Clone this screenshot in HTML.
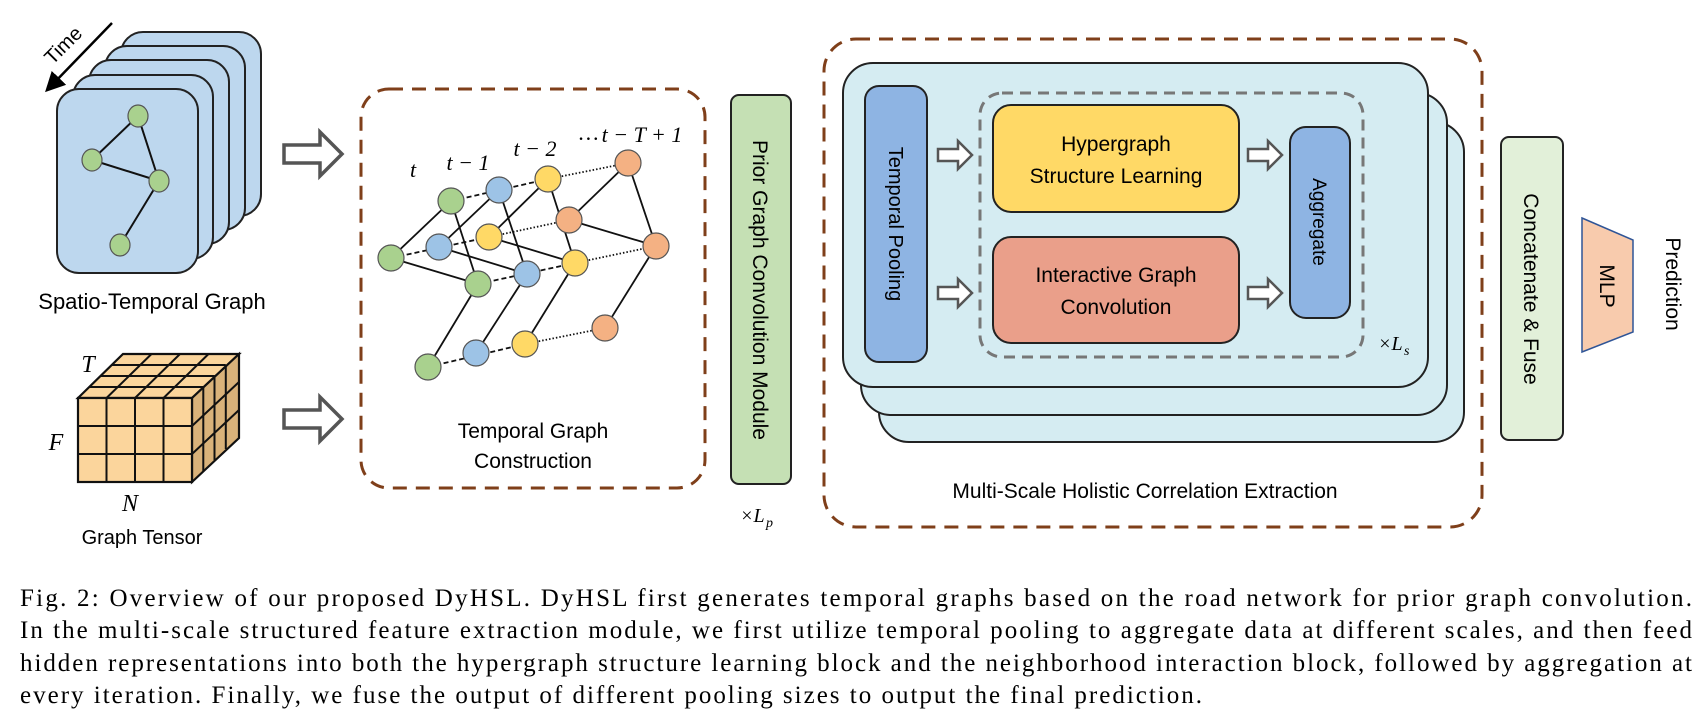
<!DOCTYPE html>
<html><head><meta charset="utf-8"><style>
html,body{margin:0;padding:0;background:#fff}
svg{display:block}
.s{font-family:"Liberation Sans Narrow","Liberation Sans",sans-serif}
.w{font-family:"Liberation Sans",sans-serif}
.m{font-family:"Liberation Serif",serif;font-style:italic}
.c{font-family:"Liberation Serif",serif;font-size:25px;fill:#000}
</style></head><body>
<svg width="1706" height="719" viewBox="0 0 1706 719" xmlns="http://www.w3.org/2000/svg">
<defs>
<marker id="ah" markerWidth="8" markerHeight="8" refX="4" refY="4" orient="auto"><path d="M0,0 L8,4 L0,8 z" fill="#000"/></marker>
<g id="oarrow"><path d="M0,-9 L36,-9 L36,-22 L58,0 L36,22 L36,9 L0,9 z" fill="#fff" stroke="#555" stroke-width="3.5"/></g>
<g id="sarrow"><path d="M0,-6 L20,-6 L20,-14 L34,0 L20,14 L20,6 L0,6 z" fill="#fff" stroke="#555" stroke-width="2.5"/></g>
</defs>

<!-- Time arrow -->
<line x1="112" y1="23" x2="52" y2="85" stroke="#000" stroke-width="2.5" marker-end="url(#ah)"/>
<text x="68" y="50" class="s" font-size="20" transform="rotate(-45 68 50)" text-anchor="middle">Time</text>

<!-- card stack -->
<g stroke="#222" stroke-width="2" fill="#bdd7ee">
<rect x="121" y="32" width="140" height="184" rx="22"/>
<rect x="105" y="46" width="140" height="184" rx="22"/>
<rect x="89" y="60" width="140" height="184" rx="22"/>
<rect x="73" y="75" width="140" height="184" rx="22"/>
<rect x="57" y="89" width="141" height="184" rx="22"/>
</g>
<g stroke="#111" stroke-width="2">
<line x1="138" y1="116" x2="92" y2="160"/><line x1="138" y1="116" x2="159" y2="181"/>
<line x1="92" y1="160" x2="159" y2="181"/><line x1="159" y1="181" x2="120" y2="245"/>
</g>
<g fill="#a9d18e" stroke="#555" stroke-width="1.2">
<ellipse cx="138" cy="116" rx="10" ry="11"/><ellipse cx="92" cy="160" rx="10" ry="11"/>
<ellipse cx="159" cy="181" rx="10" ry="11"/><ellipse cx="120" cy="245" rx="10" ry="11"/>
</g>
<text x="152" y="309" class="s" font-size="22" text-anchor="middle">Spatio-Temporal Graph</text>

<!-- cube -->
<g stroke="#111" stroke-width="2.2" fill="#fbd59c">
<path d="M78,398 L123,354 L239,354 L192,398 z"/>
<path d="M192,398 L239,354 L239,438 L192,482 z" fill="#d9b27a"/>
<rect x="78" y="398" width="114" height="84"/>
</g>
<g stroke="#111" stroke-width="2" fill="none">
<line x1="106.5" y1="398" x2="106.5" y2="482"/><line x1="135" y1="398" x2="135" y2="482"/><line x1="163.5" y1="398" x2="163.5" y2="482"/>
<line x1="78" y1="426" x2="192" y2="426"/><line x1="78" y1="454" x2="192" y2="454"/>
<line x1="89.3" y1="387" x2="203.3" y2="387"/><line x1="100.5" y1="376" x2="214.5" y2="376"/><line x1="111.8" y1="365" x2="225.8" y2="365"/>
<line x1="106.5" y1="398" x2="151.5" y2="354"/><line x1="135" y1="398" x2="180" y2="354"/><line x1="163.5" y1="398" x2="208.5" y2="354"/>
<line x1="203.3" y1="387" x2="203.3" y2="471"/><line x1="214.5" y1="376" x2="214.5" y2="460"/><line x1="225.8" y1="365" x2="225.8" y2="449"/>
<line x1="192" y1="426" x2="239" y2="382"/><line x1="192" y1="454" x2="239" y2="410"/>
</g>
<text x="88" y="372" class="m" font-size="24" text-anchor="middle">T</text>
<text x="56" y="450" class="m" font-size="24" text-anchor="middle">F</text>
<text x="130" y="511" class="m" font-size="24" text-anchor="middle">N</text>
<text x="142" y="544" class="s" font-size="20" text-anchor="middle">Graph Tensor</text>

<!-- arrows -->
<use href="#oarrow" x="284" y="154"/>
<use href="#oarrow" x="284" y="419"/>

<!-- box 1 -->
<rect x="361" y="89" width="344" height="399" rx="28" fill="none" stroke="#7f3f1a" stroke-width="3" stroke-dasharray="14 9"/>
<g class="m" font-size="22">
<text x="413" y="177" text-anchor="middle">t</text>
<text x="468" y="170" text-anchor="middle">t − 1</text>
<text x="535" y="156" text-anchor="middle">t − 2</text>
<text x="579" y="140">…</text>
<text x="642" y="142" text-anchor="middle">t − T + 1</text>
</g>
<g stroke="#111" stroke-width="1.8">
<line x1="451" y1="201" x2="391" y2="258"/><line x1="451" y1="201" x2="478" y2="284"/><line x1="391" y1="258" x2="478" y2="284"/><line x1="478" y1="284" x2="428" y2="367"/>
<line x1="499" y1="190" x2="439" y2="247"/><line x1="499" y1="190" x2="527" y2="274"/><line x1="439" y1="247" x2="527" y2="274"/><line x1="527" y1="274" x2="476" y2="353"/>
<line x1="548" y1="179" x2="489" y2="237"/><line x1="548" y1="179" x2="575" y2="263"/><line x1="489" y1="237" x2="575" y2="263"/><line x1="575" y1="263" x2="525" y2="344"/>
<line x1="628" y1="163" x2="569" y2="220"/><line x1="628" y1="163" x2="656" y2="246"/><line x1="569" y1="220" x2="656" y2="246"/><line x1="656" y1="246" x2="605" y2="328"/>
</g>
<g stroke="#111" stroke-width="1.8" stroke-dasharray="5 3">
<line x1="451" y1="201" x2="548" y2="179"/><line x1="391" y1="258" x2="489" y2="237"/><line x1="478" y1="284" x2="575" y2="263"/><line x1="428" y1="367" x2="525" y2="344"/>
</g>
<g stroke="#111" stroke-width="1.8" stroke-dasharray="1.5 2">
<line x1="548" y1="179" x2="628" y2="163"/><line x1="489" y1="237" x2="569" y2="220"/><line x1="575" y1="263" x2="656" y2="246"/><line x1="525" y1="344" x2="605" y2="328"/>
</g>
<g stroke="#555" stroke-width="1.2">
<g fill="#a9d18e"><circle cx="451" cy="201" r="13"/><circle cx="391" cy="258" r="13"/><circle cx="478" cy="284" r="13"/><circle cx="428" cy="367" r="13"/></g>
<g fill="#9dc3e6"><circle cx="499" cy="190" r="13"/><circle cx="439" cy="247" r="13"/><circle cx="527" cy="274" r="13"/><circle cx="476" cy="353" r="13"/></g>
<g fill="#ffd966"><circle cx="548" cy="179" r="13"/><circle cx="489" cy="237" r="13"/><circle cx="575" cy="263" r="13"/><circle cx="525" cy="344" r="13"/></g>
<g fill="#f4b183"><circle cx="628" cy="163" r="13"/><circle cx="569" cy="220" r="13"/><circle cx="656" cy="246" r="13"/><circle cx="605" cy="328" r="13"/></g>
</g>
<text x="533" y="438" class="s" font-size="21" text-anchor="middle">Temporal Graph</text>
<text x="533" y="468" class="s" font-size="21" text-anchor="middle">Construction</text>

<!-- prior -->
<rect x="731" y="95" width="60" height="389" rx="8" fill="#c5e0b4" stroke="#222" stroke-width="2"/>
<text class="w" font-size="21" text-anchor="middle" transform="translate(753 290) rotate(90)">Prior Graph Convolution Module</text>
<text x="740" y="522" class="m" font-size="20">×L</text><text x="766" y="527" class="m" font-size="14">p</text>

<!-- box2 -->
<rect x="824" y="39" width="658" height="488" rx="32" fill="none" stroke="#7f3f1a" stroke-width="3" stroke-dasharray="14 9"/>
<g stroke="#222" stroke-width="2" fill="#d5ecf2">
<rect x="879" y="122" width="585" height="320" rx="30"/>
<rect x="861" y="93" width="586" height="322" rx="30"/>
<rect x="843" y="63" width="585" height="324" rx="30"/>
</g>
<rect x="865" y="86" width="62" height="276" rx="14" fill="#8eb4e3" stroke="#222" stroke-width="2"/>
<text class="w" font-size="20" text-anchor="middle" transform="translate(889 224) rotate(90)">Temporal Pooling</text>
<rect x="980" y="93" width="383" height="264" rx="22" fill="none" stroke="#777" stroke-width="3" stroke-dasharray="11 7"/>
<rect x="993" y="105" width="246" height="107" rx="18" fill="#ffd966" stroke="#222" stroke-width="2"/>
<text x="1116" y="151" class="s" font-size="21" text-anchor="middle">Hypergraph</text>
<text x="1116" y="183" class="s" font-size="21" text-anchor="middle">Structure Learning</text>
<rect x="993" y="237" width="246" height="106" rx="18" fill="#ea9f8a" stroke="#222" stroke-width="2"/>
<text x="1116" y="282" class="s" font-size="21" text-anchor="middle">Interactive Graph</text>
<text x="1116" y="314" class="s" font-size="21" text-anchor="middle">Convolution</text>
<rect x="1290" y="127" width="60" height="191" rx="16" fill="#8eb4e3" stroke="#222" stroke-width="2"/>
<text class="w" font-size="19" text-anchor="middle" transform="translate(1313 222) rotate(90)">Aggregate</text>
<use href="#sarrow" x="938" y="155"/><use href="#sarrow" x="938" y="293"/>
<use href="#sarrow" x="1248" y="155"/><use href="#sarrow" x="1248" y="293"/>
<text x="1378" y="350" class="m" font-size="20">×L</text><text x="1404" y="355" class="m" font-size="14">s</text>
<text x="1145" y="498" class="s" font-size="21" text-anchor="middle">Multi-Scale Holistic Correlation Extraction</text>

<!-- concat -->
<rect x="1501" y="137" width="62" height="303" rx="8" fill="#e2f0d9" stroke="#222" stroke-width="2"/>
<text class="w" font-size="21" text-anchor="middle" transform="translate(1524 289) rotate(90)">Concatenate &amp; Fuse</text>
<path d="M1582,218 L1633,240 L1633,332 L1582,352 z" fill="#f8cbad" stroke="#2f5597" stroke-width="1.5"/>
<text class="w" font-size="21" text-anchor="middle" transform="translate(1600 286) rotate(90)">MLP</text>
<text class="w" font-size="21" text-anchor="middle" transform="translate(1666 284) rotate(90)">Prediction</text>

<!-- caption -->
<text x="20" y="606" class="c" textLength="1672" lengthAdjust="spacing">Fig. 2: Overview of our proposed DyHSL. DyHSL first generates temporal graphs based on the road network for prior graph convolution.</text>
<text x="20" y="638" class="c" textLength="1672" lengthAdjust="spacing">In the multi-scale structured feature extraction module, we first utilize temporal pooling to aggregate data at different scales, and then feed</text>
<text x="20" y="671" class="c" textLength="1672" lengthAdjust="spacing">hidden representations into both the hypergraph structure learning block and the neighborhood interaction block, followed by aggregation at</text>
<text x="20" y="703" class="c" textLength="1182" lengthAdjust="spacing">every iteration. Finally, we fuse the output of different pooling sizes to output the final prediction.</text>
</svg>
</body></html>
